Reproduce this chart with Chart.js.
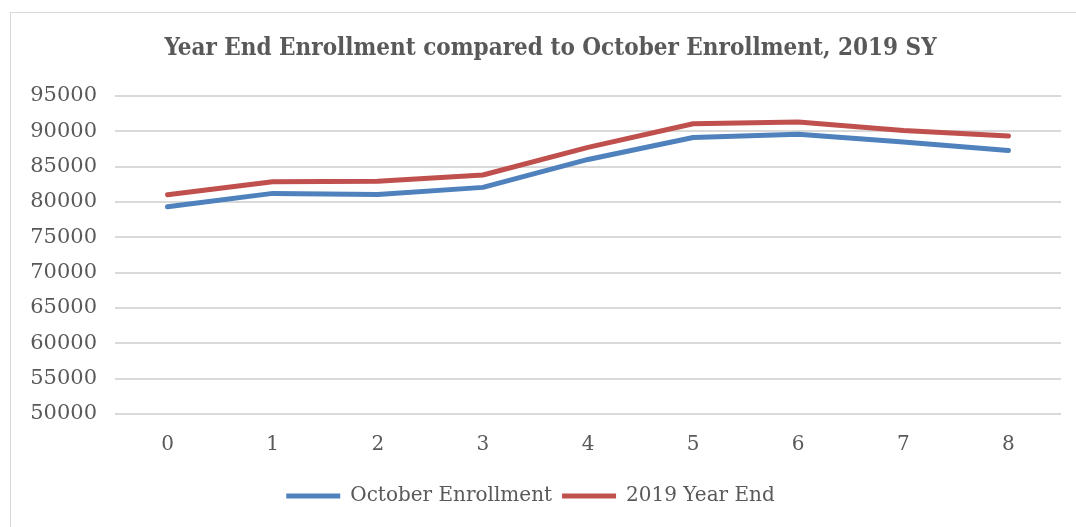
<!DOCTYPE html>
<html>
<head>
<meta charset="utf-8">
<script src="https://cdn.jsdelivr.net/npm/chart.js@4.4.1/dist/chart.umd.min.js"></script>
<style>
  html, body { margin: 0; padding: 0; background: #fff; overflow: hidden; }
  #frame { position: absolute; left: 10px; top: 12px; width: 1100px; height: 600px; border: 1px solid #d9d9d9; }
  #wrap { position: absolute; left: 0; top: 0; width: 1076px; height: 527px; }
</style>
</head>
<body>
<div id="frame"></div>
<div id="wrap"><canvas id="enrollChart"></canvas></div>
<script>
const labels = ['0', '1', '2', '3', '4', '5', '6', '7', '8'];
const octoberEnrollment = [79300, 81200, 81050, 82050, 86000, 89100, 89550, 88450, 87250];
const yearEnd2019 = [81000, 82850, 82900, 83800, 87700, 91050, 91300, 90100, 89300];

const textColor = '#595959';
const gridColor = '#d9d9d9';
const serif = "'DejaVu Serif', 'Liberation Serif', serif";

// nudge the title box so it is centred on the framed area, not the whole canvas
const titleShift = {
  id: 'titleShift',
  afterLayout(chart) {
    if (chart.titleBlock) chart.titleBlock.left += 40;
  }
};

new Chart(document.getElementById('enrollChart'), {
  type: 'line',
  data: {
    labels: labels,
    datasets: [
      {
        label: 'October Enrollment',
        data: octoberEnrollment,
        borderColor: '#4f81bd',
        backgroundColor: '#4f81bd',
        borderWidth: 5,
        borderCapStyle: 'round',
        borderJoinStyle: 'round',
        pointRadius: 0,
        pointStyle: 'line',
        tension: 0
      },
      {
        label: '2019 Year End',
        data: yearEnd2019,
        borderColor: '#c0504d',
        backgroundColor: '#c0504d',
        borderWidth: 5,
        borderCapStyle: 'round',
        borderJoinStyle: 'round',
        pointRadius: 0,
        pointStyle: 'line',
        tension: 0
      }
    ]
  },
  options: {
    responsive: true,
    maintainAspectRatio: false,
    animation: false,
    layout: { padding: { left: 0, right: 15, top: 0, bottom: 11 } },
    plugins: {
      title: {
        display: true,
        text: 'Year End Enrollment compared to October Enrollment, 2019 SY',
        color: textColor,
        font: { family: "'DejaVu Serif Condensed', 'DejaVu Serif', serif", size: 24, weight: 'bold' },
        padding: { top: 34, bottom: 33 }
      },
      legend: {
        position: 'bottom',
        labels: {
          color: textColor,
          font: { family: serif, size: 20 },
          usePointStyle: true,
          pointStyleWidth: 54,
          padding: 10
        }
      },
      tooltip: { enabled: false }
    },
    scales: {
      x: {
        offset: true,
        grid: { display: false, drawTicks: false },
        border: { display: false },
        ticks: { color: textColor, font: { family: serif, size: 20 }, padding: 19 }
      },
      y: {
        min: 50000,
        max: 95000,
        afterFit: (scale) => { scale.width = 115; },
        grid: { color: gridColor, lineWidth: 2, drawTicks: false },
        border: { display: false },
        ticks: {
          stepSize: 5000,
          color: textColor,
          font: { family: serif, size: 21 },
          padding: 18,
          callback: (value) => String(value)
        }
      }
    }
  },
  plugins: [titleShift]
});
</script>
</body>
</html>
